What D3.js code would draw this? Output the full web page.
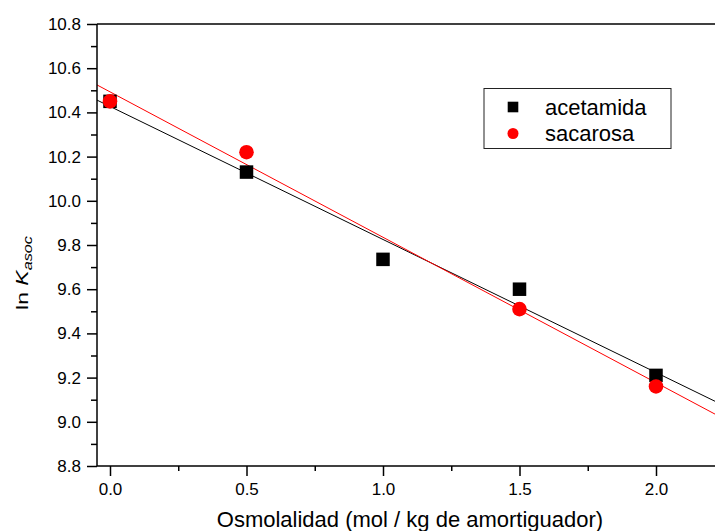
<!DOCTYPE html>
<html><head><meta charset="utf-8">
<script src="https://cdn.jsdelivr.net/npm/d3@7/dist/d3.min.js"></script>
<style>
html,body{margin:0;padding:0;background:#fff;}
text{font-family:Arial,"Liberation Sans",sans-serif;fill:#000;}
</style></head>
<body><svg id="c" width="715" height="531"></svg>
<script>
const osmolalidad = [0, 0.5, 1.0, 1.5, 2.0];
const acetamida = [10.45, 10.13, 9.735, 9.60, 9.21];
const sacarosaX = [0, 0.5, 1.5, 2.0];
const sacarosa = [10.45, 10.22, 9.51, 9.16];
const xTicks = [0.0, 0.5, 1.0, 1.5, 2.0];
const yTicks = [8.8, 9.0, 9.2, 9.4, 9.6, 9.8, 10.0, 10.2, 10.4, 10.6, 10.8];
const seriesNames = ["acetamida", "sacarosa"];

const svg = d3.select("#c");
const L = 97, T = 24, B = 466;
const x = d3.scaleLinear().domain([0, 0.5]).range([110, 246.5]);
const xMin = -0.0476, xMax = 2.35;
const y = d3.scaleLinear().domain([8.8, 10.8]).range([B, T]);
const R = x(xMax);

function fit(xs, ys){
  const n = xs.length, mx = d3.mean(xs), my = d3.mean(ys);
  let sxy = 0, sxx = 0;
  for (let i=0;i<n;i++){ sxy += (xs[i]-mx)*(ys[i]-my); sxx += (xs[i]-mx)**2; }
  const b = sxy/sxx; return {a: my - b*mx, b};
}

// fit lines
const clip = svg.append("clipPath").attr("id","pc").append("rect")
  .attr("x",L).attr("y",T).attr("width",R-L).attr("height",B-T);
const g = svg.append("g").attr("clip-path","url(#pc)");
[[osmolalidad, acetamida, "#000"], [sacarosaX, sacarosa, "#ff0000"]].forEach(([xs, ys, col])=>{
  const f = fit(xs, ys);
  g.append("line").attr("x1", x(xMin)).attr("y1", y(f.a + f.b*xMin))
    .attr("x2", x(xMax)).attr("y2", y(f.a + f.b*xMax))
    .attr("stroke", col).attr("stroke-width", 1);
});

// markers
const sq = 13.5;
g.selectAll("rect.a").data(osmolalidad.map((v,i)=>[v, acetamida[i]])).enter().append("rect")
  .attr("x", d=>x(d[0])-sq/2).attr("y", d=>y(d[1])-sq/2).attr("width", sq).attr("height", sq).attr("fill", "#000");
g.selectAll("circle.s").data(sacarosaX.map((v,i)=>[v, sacarosa[i]])).enter().append("circle")
  .attr("cx", d=>x(d[0])).attr("cy", d=>y(d[1])).attr("r", 7.3).attr("fill", "#ff0000");

// axes
const ax = svg.append("g");
ax.append("line").attr("x1",L).attr("x2",R).attr("y1",B).attr("y2",B).attr("stroke","#000").attr("stroke-width",1.5);
ax.append("line").attr("x1",L).attr("x2",R).attr("y1",T).attr("y2",T).attr("stroke","#000").attr("stroke-width",1.5);
ax.append("line").attr("x1",L).attr("x2",L).attr("y1",T).attr("y2",B).attr("stroke","#000").attr("stroke-width",1.5);

const xAxis = d3.axisBottom(x).tickValues(xTicks).tickSize(10).tickFormat(d3.format(".1f"));
const xg = svg.append("g").attr("transform",`translate(0,${B})`).call(xAxis);
xg.select(".domain").remove();
xg.selectAll(".tick line").attr("stroke-width",1.5);
xg.selectAll(".tick text").attr("font-size","17px").attr("font-family","Arial,'Liberation Sans',sans-serif").attr("dy",null).attr("y",29);
const xMinor = d3.axisBottom(x).tickValues([0.25,0.75,1.25,1.75,2.25]).tickSize(5).tickFormat("");
const xmg = svg.append("g").attr("transform",`translate(0,${B})`).call(xMinor);
xmg.select(".domain").remove();
xmg.selectAll(".tick line").attr("stroke-width",1.5);

const yAxis = d3.axisLeft(y).tickValues(yTicks).tickSize(10).tickFormat(d3.format(".1f"));
const yg = svg.append("g").attr("transform",`translate(${L},0)`).call(yAxis);
yg.select(".domain").remove();
yg.selectAll(".tick line").attr("stroke-width",1.5);
yg.selectAll(".tick text").attr("font-size","17px").attr("font-family","Arial,'Liberation Sans',sans-serif").attr("x",-16);
const yMinor = d3.axisLeft(y).tickValues(d3.range(8.9, 10.8, 0.2)).tickSize(6).tickFormat("");
const ymg = svg.append("g").attr("transform",`translate(${L},0)`).call(yMinor);
ymg.select(".domain").remove();
ymg.selectAll(".tick line").attr("stroke-width",1.5);

// x title
svg.append("text").attr("x",410).attr("y",527).attr("text-anchor","middle")
  .attr("font-size","22px").text("Osmolalidad (mol / kg de amortiguador)");

// y title
const yt = svg.append("text").attr("transform","translate(28,273) rotate(-90) scale(1.35,1)")
  .attr("text-anchor","middle").attr("font-size","17px");
yt.append("tspan").text("ln ");
yt.append("tspan").attr("font-style","italic").text("K");
yt.append("tspan").attr("font-style","italic").attr("font-size","12px").attr("dy",4).text("asoc");

// legend
svg.append("rect").attr("x",484).attr("y",88.5).attr("width",187).attr("height",60)
  .attr("fill","#fff").attr("stroke","#222").attr("stroke-width",1);
svg.append("rect").attr("x",513-5.3).attr("y",107-5.3).attr("width",10.6).attr("height",10.6).attr("fill","#000");
svg.append("circle").attr("cx",513).attr("cy",133.5).attr("r",5.5).attr("fill","#ff0000");
svg.append("text").attr("x",545).attr("y",114.5).attr("font-size","22px").text(seriesNames[0]);
svg.append("text").attr("x",545).attr("y",141).attr("font-size","22px").text(seriesNames[1]);
</script></body></html>
